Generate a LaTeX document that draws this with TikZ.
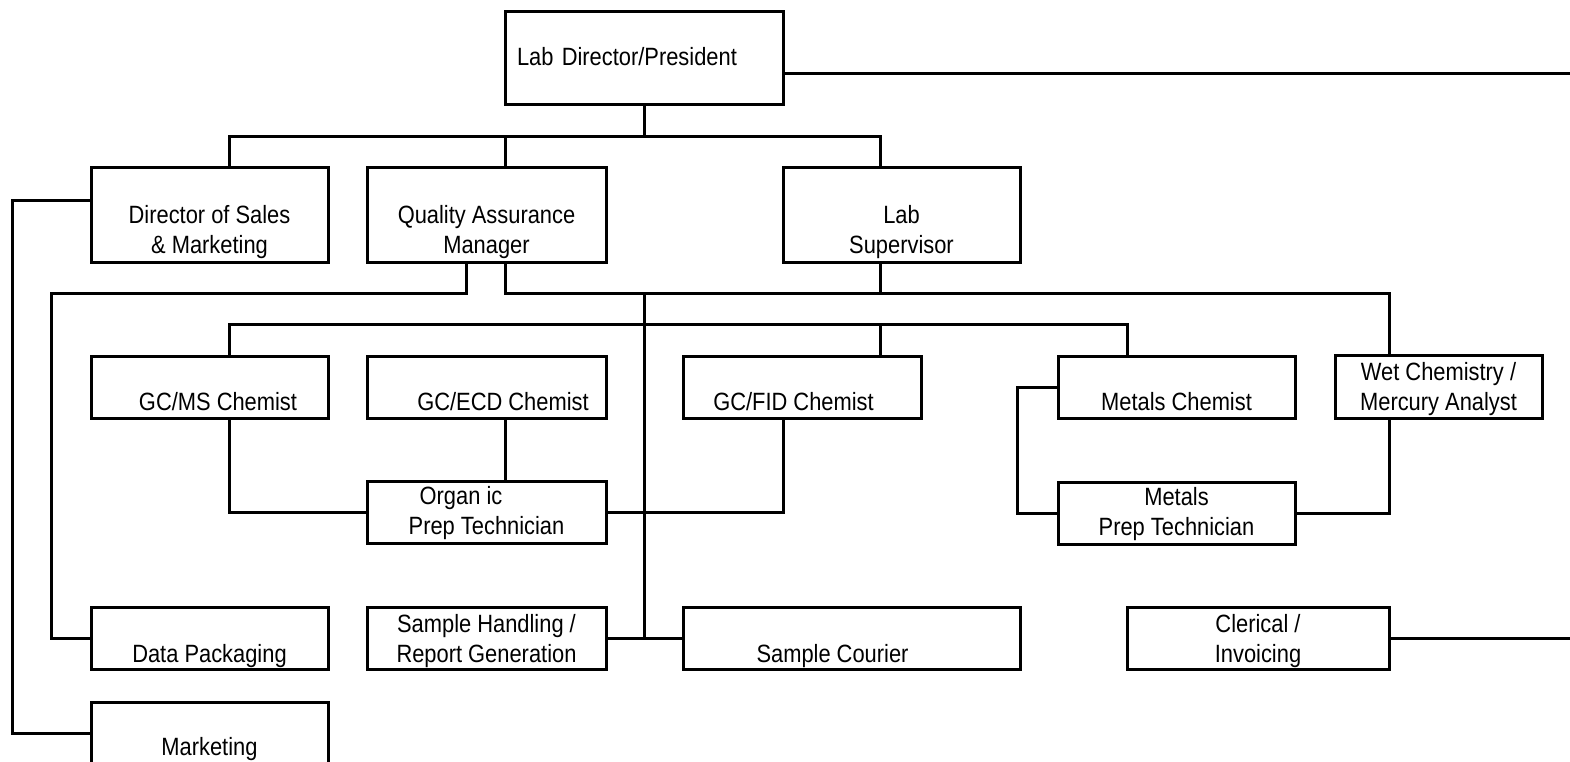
\documentclass[tikz,border=0pt]{standalone}
\usepackage{fontspec}
\setmainfont{Liberation Sans}[FakeStretch=0.875]
\newcommand{\orgfont}{\fontsize{25}{30}\selectfont}
\tikzstyle{orgbox} = [draw, line width=3pt, inner sep=0pt, align=center, font=\orgfont, minimum width=237pt]
\tikzstyle{tall} = [orgbox, text height=86pt, text depth=9pt]
\tikzstyle{chem} = [orgbox, text height=54pt, text depth=8pt]
\tikzstyle{prep} = [orgbox, text height=53pt, text depth=9pt]
\tikzstyle{low} = [orgbox, text height=55pt, text depth=7pt]
\tikzstyle{link} = [line width=3pt]

\begin{document}
\begin{tikzpicture}[x=1pt, y=-1pt]
\useasboundingbox (0,0) rectangle (1570,761);

\node (dir) [orgbox, minimum width=278pt, text width=254pt, inner xsep=12pt, align=left, text height=54pt, text depth=39pt] at (644,57.5) {Lab Director/President};
\node (sales) [tall] at (209.5,214.5) {Director of Sales\\\& Marketing};
\node (qa) [tall, minimum width=239pt] at (486.5,214.5) {Quality Assurance\\Manager};
\node (sup) [tall] at (901.5,214.5) {Lab\\Supervisor};

\node (gcms) [chem] at (209.5,387) {\hspace*{17pt}GC/MS Chemist};
\node (gcecd) [chem, minimum width=239pt] at (486.5,387) {\hspace*{33pt}GC/ECD Chemist};
\node (gcfid) [chem, minimum width=238pt] at (802,387) {GC/FID Chemist\hspace*{17pt}};
\node (metc) [chem] at (1176.5,387) {Metals Chemist};
\node (wetc) [chem, minimum width=207pt, text height=55pt] at (1438.5,386.5) {Wet Chemistry /\\Mercury Analyst};

\node (orgprep) [prep, minimum width=239pt] at (486.5,512.5) {Organ ic\hspace*{51pt}\\Prep Technician};
\node (metprep) [prep] at (1176.5,513) {Metals\\Prep Technician};

\node (datapk) [low] at (209.5,638) {Data Packaging};
\node (shand) [low, minimum width=239pt] at (486.5,638) {Sample Handling /\\Report Generation};
\node (courier) [low, minimum width=337pt] at (851.5,638) {Sample Courier\hspace*{38pt}};
\node (cler) [low, minimum width=262pt] at (1258,638) {Clerical /\\Invoicing};
\node (mkt) [orgbox, text height=53pt, text depth=9pt] at (209.5,733) {Marketing};

\coordinate (j1) at (644,136);
\coordinate (j2) at (644,293);
\coordinate (j3) at (644,324);
\coordinate (dleft) at (51,293);
\coordinate (mleft) at (12,733);
\coordinate (edgea) at (1570,73);
\coordinate (edgeb) at (1570,638);

\draw [link] ([yshift=-15.5pt]dir.east) -- (edgea);
\draw [link] (dir.south) -- (j1);
\draw [link] (j1) -| ([xshift=19.5pt]sales.north);
\draw [link] (j1) -| ([xshift=18.5pt]qa.north);
\draw [link] (j1) -| ([xshift=-21.5pt]sup.north);
\draw [link] ([yshift=14.5pt]sales.west) -| (mleft) -- (mkt.west);
\draw [link] ([xshift=-20.5pt]qa.south) |- (dleft) |- (datapk.west);
\draw [link] ([xshift=18.5pt]qa.south) |- (j2) -| ([xshift=-49.5pt]wetc.north);
\draw [link] ([xshift=-21.5pt]sup.south) |- (j2);
\draw [link] (j2) |- (shand.east);
\draw [link] (j2) |- (courier.west);
\draw [link] (j3) -| ([xshift=19.5pt]gcms.north);
\draw [link] (j3) -| ([xshift=78pt]gcfid.north);
\draw [link] (j3) -| ([xshift=-49.5pt]metc.north);
\draw [link] ([xshift=18.5pt]gcecd.south) -- ([xshift=18.5pt]orgprep.north);
\draw [link] ([xshift=19.5pt]gcms.south) |- (orgprep.west);
\draw [link] ([xshift=-19pt]gcfid.south) |- (orgprep.east);
\draw [link] (metc.west) -- ++(-39,0) |- (metprep.west);
\draw [link] ([xshift=-49.5pt]wetc.south) |- (metprep.east);
\draw [link] (cler.east) -- (edgeb);

\end{tikzpicture}
\end{document}
